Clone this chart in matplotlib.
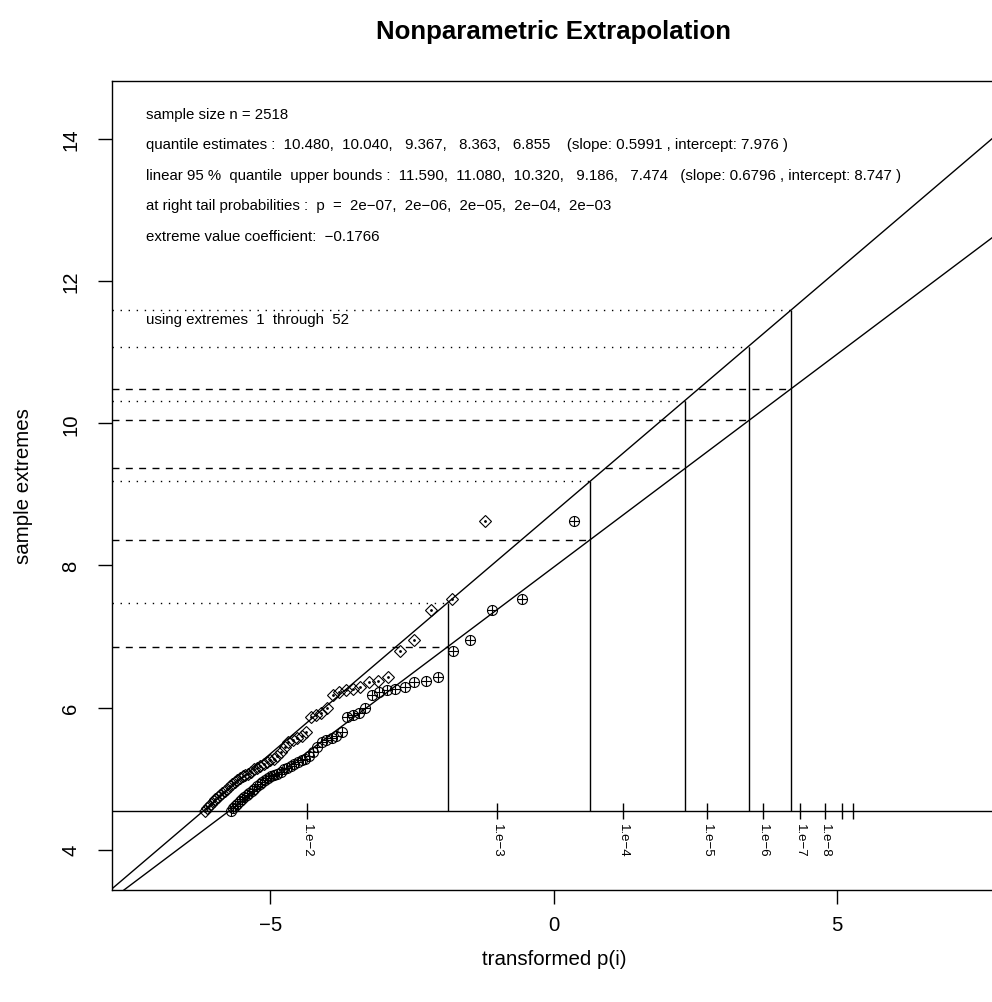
import matplotlib
matplotlib.use("Agg")
import matplotlib.pyplot as plt

plt.rcParams['font.family'] = ['Liberation Sans', 'DejaVu Sans']
plt.rcParams['lines.scale_dashes'] = False

# ---------------- data ----------------
sample_size = 2518
n_extremes = 52
threshold = 4.55
ev_coef = -0.1766

# sample extremes (largest first)
extremes_y = [8.63, 7.53, 7.37, 6.95, 6.80, 6.43, 6.37, 6.36, 6.29, 6.26,
              6.25, 6.22, 6.17, 6.00, 5.93, 5.90, 5.87, 5.66, 5.60, 5.57,
              5.55, 5.51, 5.44, 5.38, 5.32, 5.28, 5.26, 5.24, 5.21, 5.18,
              5.15, 5.13, 5.10, 5.07, 5.05, 5.03, 5.01, 4.98, 4.95, 4.92,
              4.89, 4.86, 4.83, 4.80, 4.77, 4.74, 4.71, 4.68, 4.65, 4.62,
              4.58, 4.55]

# transformed p(i) of the extremes (circle-plus points)
circle_x = [0.35, -0.56, -1.09, -1.47, -1.78, -2.04, -2.26, -2.46, -2.63, -2.80,
            -2.94, -3.08, -3.21, -3.33, -3.44, -3.55, -3.65, -3.74, -3.84, -3.92,
            -4.01, -4.09, -4.17, -4.24, -4.31, -4.38, -4.45, -4.52, -4.58, -4.64,
            -4.70, -4.76, -4.82, -4.88, -4.93, -4.98, -5.04, -5.09, -5.14, -5.19,
            -5.23, -5.28, -5.33, -5.37, -5.42, -5.46, -5.50, -5.54, -5.58, -5.62,
            -5.66, -5.70]

# transformed upper-bound p(i) (diamond points)
diamond_x = [-1.21, -1.79, -2.17, -2.47, -2.71, -2.92, -3.10, -3.26, -3.41, -3.55,
             -3.67, -3.79, -3.90, -4.00, -4.10, -4.20, -4.29, -4.37, -4.45, -4.53,
             -4.60, -4.68, -4.75, -4.81, -4.88, -4.94, -5.00, -5.06, -5.12, -5.18,
             -5.23, -5.29, -5.34, -5.39, -5.44, -5.49, -5.54, -5.58, -5.63, -5.67,
             -5.72, -5.76, -5.80, -5.85, -5.89, -5.93, -5.97, -6.00, -6.04, -6.08,
             -6.12, -6.15]

tail_prob_labels = ["2e\u221207", "2e\u221206", "2e\u221205", "2e\u221204", "2e\u221203"]
tail_prob_x = [4.181, 3.438, 2.322, 0.646, -1.871]
quantile_est = [10.480, 10.040, 9.367, 8.363, 6.855]
upper_bounds = [11.590, 11.080, 10.320, 9.186, 7.474]
q_slope, q_intercept = 0.5991, 7.976
u_slope, u_intercept = 0.6796, 8.747

prob_tick_x = [-4.348, -1.003, 1.224, 2.707, 3.694, 4.352, 4.790, 5.081, 5.276]
prob_tick_labels = ["1.e\u22122", "1.e\u22123", "1.e\u22124", "1.e\u22125",
                    "1.e\u22126", "1.e\u22127", "1.e\u22128", "", ""]

x_ticks = [-5, 0, 5]
y_ticks = [4, 6, 8, 10, 12, 14]

# ---------------- figure ----------------
W, H = 992, 1003
fig = plt.figure(figsize=(W / 100, H / 100), dpi=100)
ax = fig.add_axes([112 / W, (H - 891) / H, 884 / W, 809 / H])
XL = (-7.794, 7.805)
YL = (3.433, 14.816)
ax.set_xlim(*XL)
ax.set_ylim(*YL)

lw = 1.0
for s in ['top', 'bottom', 'left']:
    ax.spines[s].set_linewidth(lw)
ax.spines['right'].set_visible(False)

# fitted lines
ax.axline((0, q_intercept), slope=q_slope, color='black', lw=lw)
ax.axline((0, u_intercept), slope=u_slope, color='black', lw=lw)

# threshold baseline
ax.axhline(threshold, color='black', lw=lw)

# horizontal dashed (estimates) and dotted (upper bounds)
ax.hlines(quantile_est, XL[0], tail_prob_x, colors='black', lw=lw,
          linestyles=[(0, (5.0, 4.6))])
ax.hlines(upper_bounds, XL[0], tail_prob_x, colors='black', lw=lw,
          linestyles=[(0, (1.0, 4.8))])
# vertical lines
ax.vlines(tail_prob_x, threshold, upper_bounds, colors='black', lw=lw)

# points
ax.plot(circle_x, extremes_y, linestyle='none', marker='o', ms=7.2,
        mfc='none', mec='black', mew=0.8)
ax.plot(circle_x, extremes_y, linestyle='none', marker='+', ms=7.2,
        mec='black', mew=0.8)
ax.plot(diamond_x, extremes_y, linestyle='none', marker='D', ms=6.4,
        mfc='none', mec='black', mew=0.8)
ax.plot(diamond_x, extremes_y, linestyle='none', marker='.', ms=2.0,
        color='black')

# probability ticks on the baseline
ax.plot(prob_tick_x, [threshold] * len(prob_tick_x), linestyle='none',
        marker='|', ms=11, mew=1.0, color='black')
for xv, lab in zip(prob_tick_x, prob_tick_labels):
    if lab:
        ax.annotate(lab, (xv, threshold), xytext=(0, -9), textcoords='offset points',
                    rotation=270, ha='center', va='top', fontsize=9.5)

# axes ticks
ax.set_xticks(x_ticks)
ax.set_xticklabels([f"{v}".replace('-', '\u2212') for v in x_ticks])
ax.set_yticks(y_ticks)
ax.set_yticklabels([str(v) for v in y_ticks], rotation=90, va='center')
ax.tick_params(axis='both', direction='out', length=10, width=lw,
               labelsize=14.6)
ax.tick_params(axis='x', pad=8)
ax.tick_params(axis='y', pad=13)

ax.set_xlabel("transformed p(i)", fontsize=14.8, labelpad=11)
ax.set_ylabel("sample extremes", fontsize=14.8, labelpad=20)
fig.text(554 / W, 1 - 32 / H, "Nonparametric Extrapolation", ha='center',
         va='center', fontsize=18.6, fontweight='bold')

# annotations
fmt = lambda vals, w: ",  ".join(f"{v:{w}.3f}" for v in vals)
lines = [
    (14.352, f"sample size n = {sample_size}"),
    (13.93, f"quantile estimates :  {fmt(quantile_est, 6)}    (slope: {q_slope} , intercept: {q_intercept} )"),
    (13.49, f"linear 95 %  quantile  upper bounds :  {fmt(upper_bounds, 6)}   (slope: {u_slope} , intercept: {u_intercept} )"),
    (13.07, "at right tail probabilities :  p  =  " + ",  ".join(tail_prob_labels)),
    (12.64, f"extreme value coefficient:  {ev_coef}".replace('-', '\u2212')),
    (11.47, f"using extremes  1  through  {n_extremes}"),
]
for yv, s in lines:
    ax.text(-7.194, yv, s, ha='left', va='center', fontsize=10.8)

fig.savefig("out.png", dpi=100)
